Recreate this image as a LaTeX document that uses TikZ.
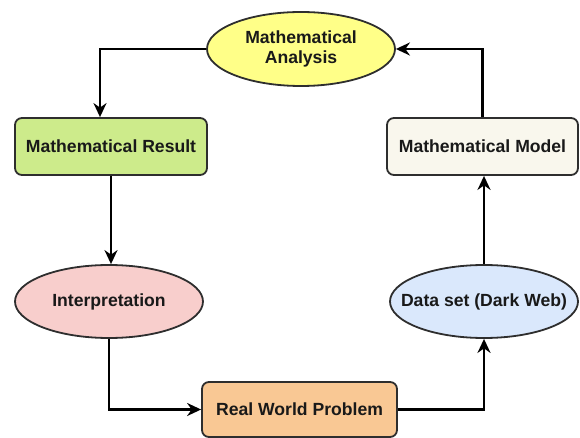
\documentclass[tikz,border=0pt]{standalone}
\usepackage{fontspec}
\setmainfont{Liberation Sans}
\usepackage[dvipsnames,svgnames,x11names]{xcolor}
\usetikzlibrary{positioning, shapes.geometric, arrows.meta}

\definecolor{analysisFill}{HTML}{FFFF88}
\definecolor{resultFill}{HTML}{CDEB8B}
\definecolor{modelFill}{HTML}{F9F7ED}
\definecolor{interpFill}{HTML}{F8CECC}
\definecolor{dataFill}{HTML}{DAE8FC}
\definecolor{problemFill}{HTML}{F9C894}
\definecolor{edgeGray}{HTML}{2E2E2E}

\begin{document}
\begin{tikzpicture}[x=1pt, y=-1pt,
    font=\bfseries\fontsize{17.6}{20}\selectfont,
    box/.style={draw=edgeGray, line width=1.8pt, rounded corners=7pt,
        minimum width=192pt, minimum height=57pt, inner sep=0pt, text=black!90},
    oval/.style={draw=edgeGray, ellipse, line width=1.8pt,
        minimum width=188pt, minimum height=74pt, inner xsep=-40pt, inner ysep=0pt, text=black!90},
    flow/.style={line width=2.4pt, -{Stealth[length=14pt,width=13pt]}}
    ]
    \useasboundingbox (0,0) rectangle (580,438);

    \node [oval, fill=analysisFill, align=center] (analysis) at (301,49) {Mathematical\\Analysis};
    \node [box, fill=resultFill] (result) at (111,146.5) {Mathematical Result};
    \node [box, fill=modelFill, minimum width=191pt] (model) at (482.5,146.5) {Mathematical Model};
    \node [oval, fill=interpFill, minimum height=73pt] (interp) at (109,301.5) {Interpretation};
    \node [oval, fill=dataFill, minimum height=73pt] (dataset) at (484,301.5) {Data set (Dark Web)};
    \node [box, fill=problemFill, minimum width=195pt, minimum height=55pt] (problem) at (299.5,409.5) {Real World Problem};

    \draw [flow] (analysis.west) -| ([xshift=-11pt]result.north);
    \draw [flow] (result.south) -- (result.south |- interp.north);
    \draw [flow] (interp.south) |- (problem.west);
    \draw [flow] (problem.east) -| (dataset.south);
    \draw [flow] (dataset.north) -- (dataset.north |- model.south);
    \draw [flow] (model.north) |- (analysis.east);
\end{tikzpicture}
\end{document}
